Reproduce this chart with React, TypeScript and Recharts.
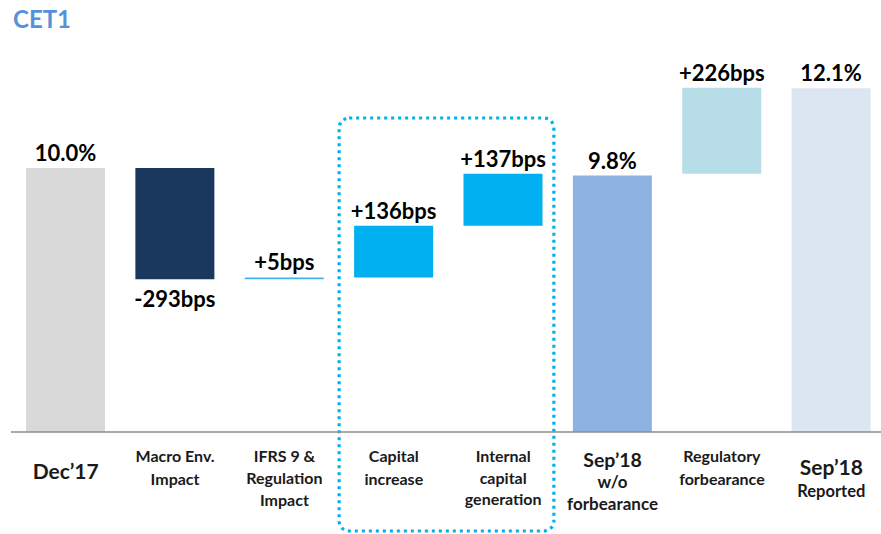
import React from "react";
import { BarChart, Bar, XAxis, YAxis, Cell, LabelList, ReferenceArea } from "recharts";

// CET1 bridge: Dec'17 -> Sep'18
const categories = [
  "Dec’17",
  "Macro Env. Impact",
  "IFRS 9 & Regulation Impact",
  "Capital increase",
  "Internal capital generation",
  "Sep’18 w/o forbearance",
  "Regulatory forbearance",
  "Sep’18 Reported",
];
const tickLines = [
  ["Dec’17"],
  ["Macro Env.", "Impact"],
  ["IFRS 9 &", "Regulation", "Impact"],
  ["Capital", "increase"],
  ["Internal", "capital", "generation"],
  ["Sep’18", "w/o", "forbearance"],
  ["Regulatory", "forbearance"],
  ["Sep’18", "Reported"],
];
const startCET1 = 10.0; // %
const movementsBps = [-293, 5, 136, 137];
const subtotalCET1 = 9.8; // %
const forbearanceBps = 226;
const reportedCET1 = 12.1; // %

type Row = { name: string; value: number | [number, number]; label: string; down: boolean };

const fmtPct = (v: number) => `${v.toFixed(1)}%`;
const fmtBps = (b: number) => `${b > 0 ? "+" : "-"}${Math.abs(b)}bps`;

const rows: Row[] = [];
let level = startCET1;
rows.push({ name: categories[0], value: startCET1, label: fmtPct(startCET1), down: false });
movementsBps.forEach((b, i) => {
  const from = level;
  level = from + b / 100;
  rows.push({
    name: categories[i + 1],
    value: [Math.min(from, level), Math.max(from, level)],
    label: fmtBps(b),
    down: b < 0,
  });
});
rows.push({ name: categories[5], value: subtotalCET1, label: fmtPct(subtotalCET1), down: false });
{
  const from = level;
  level = from + forbearanceBps / 100;
  rows.push({ name: categories[6], value: [from, level], label: fmtBps(forbearanceBps), down: false });
}
rows.push({ name: categories[7], value: reportedCET1, label: fmtPct(reportedCET1), down: false });

// styling
const BAR_COLORS = ["#D9D9D9", "#1A375E", "#3DB5EA", "#00B0F0", "#00B0F0", "#8DB3E2", "#B7DEE8", "#DCE6F2"];
const FONT = "Lato, 'Open Sans', sans-serif";

// per-category tick typography: [fontSize, baseline offset below axis] for each line
const TICK_LAYOUT: [number, number][][] = [
  [[21, 47]],
  [[16, 30], [16, 52.5]],
  [[16, 30], [16, 52], [16, 74]],
  [[16, 30], [16, 53]],
  [[16, 30], [16, 52], [16, 73]],
  [[19.5, 35], [17, 56], [17, 78]],
  [[16, 30], [16, 52.5]],
  [[21, 43], [16.5, 65]],
];

const CategoryTick = (props: any) => {
  const { x, y, payload } = props;
  const idx = payload.index;
  const lines = tickLines[idx] || [];
  const layout = TICK_LAYOUT[idx] || [];
  return (
    <g>
      {lines.map((t, i) => (
        <text
          key={i}
          x={x}
          y={y + layout[i][1]}
          textAnchor="middle"
          fontFamily={FONT}
          fontWeight={700}
          fontSize={layout[i][0]}
          fill="#1a1a1a"
        >
          {t}
        </text>
      ))}
    </g>
  );
};

const ValueLabel = (props: any) => {
  const { x, y, width, height, index } = props;
  const row = rows[index];
  const cx = x + width / 2;
  const ty = row.down ? y + height + 28 : y - 7;
  return (
    <text x={cx} y={ty} textAnchor="middle" fontFamily={FONT} fontWeight={700} fontSize={22} fill="#000">
      {row.label}
    </text>
  );
};

const HighlightBox = (props: any) => {
  const { x, y, width, height } = props;
  const top = y + 102;
  const bottom = y + height + 99;
  return (
    <rect
      x={x}
      y={top}
      width={width - 4}
      height={bottom - top}
      rx={10}
      ry={10}
      fill="none"
      stroke="#00B0F0"
      strokeWidth={3.2}
      strokeDasharray="3 4"
    />
  );
};

export default function App() {
  return (
    <div style={{ position: "absolute", left: 0, top: 0, width: 881, height: 534, overflow: "hidden", background: "#fff" }}>
      <svg width={200} height={40} style={{ position: "absolute", left: 0, top: 0 }}>
        <text x={13} y={28} fontFamily={FONT} fontWeight={700} fontSize={24} fill="#5592DA">
          CET1
        </text>
      </svg>
      <div style={{ position: "absolute", left: 0, top: 0 }}>
        <BarChart width={890} height={534} data={rows} margin={{ top: 16, right: 4, bottom: 0, left: 11 }}>
          <XAxis
            dataKey="name"
            height={102}
            interval={0}
            tickLine={false}
            tickSize={0}
            tickMargin={0}
            axisLine={{ stroke: "#8C8C8C", strokeWidth: 1.5 }}
            tick={<CategoryTick />}
          />
          <YAxis hide type="number" domain={[3.05, 14]} allowDataOverflow />
          <ReferenceArea
            x1={categories[3]}
            x2={categories[4]}
            ifOverflow="visible"
            shape={<HighlightBox />}
          />
          <Bar dataKey="value" barSize={79} isAnimationActive={false}>
            {rows.map((r, i) => (
              <Cell key={r.name} fill={BAR_COLORS[i]} />
            ))}
            <LabelList dataKey="label" content={<ValueLabel />} />
          </Bar>
        </BarChart>
      </div>
    </div>
  );
}
